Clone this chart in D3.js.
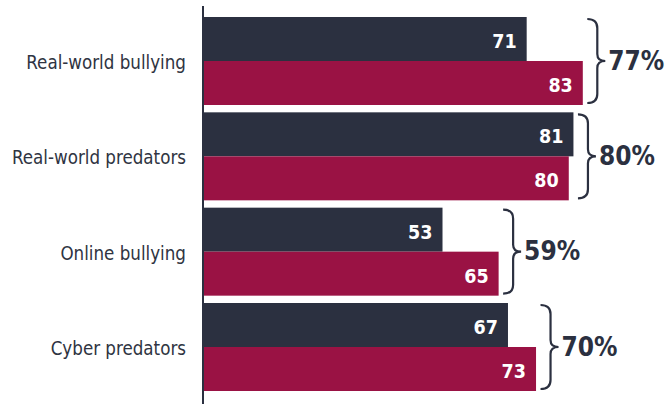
<!DOCTYPE html>
<html>
<head>
<meta charset="utf-8">
<script src="https://cdn.jsdelivr.net/npm/d3@7"></script>
<style>
  html, body { margin: 0; padding: 0; background: #ffffff; }
  svg { display: block; }
  text { font-family: "DejaVu Sans Condensed", "DejaVu Sans", sans-serif; }
</style>
</head>
<body>
<svg id="chart" width="665" height="404"></svg>
<script>
// Categories (top to bottom)
const categories = ["Real-world bullying", "Real-world predators", "Online bullying", "Cyber predators"];
// Two series per category
const seriesDark = [71, 81, 53, 67];
const seriesRed = [83, 80, 65, 73];
// Combined share shown beside each brace
const combined = [77, 80, 59, 70];

const DARK = "#2b3040";
const RED = "#9a1244";
const TEXT = "#2f3442";

const svg = d3.select("#chart");

const axisX = 203;
const x = d3.scaleLinear().domain([2, 100]).range([204, 662.3]);
const y = d3.scaleBand().domain(categories).range([17, 391]).paddingInner(0.0769);
const inner = d3.scaleBand().domain(["dark", "red"]).range([0, y.bandwidth()]);

const rows = categories.map((c, i) => ({
  cat: c,
  bars: [
    { key: "dark", value: seriesDark[i], color: DARK },
    { key: "red", value: seriesRed[i], color: RED }
  ],
  total: combined[i]
}));

const g = svg.selectAll("g.row").data(rows).join("g").attr("class", "row")
  .attr("transform", d => `translate(0,${y(d.cat)})`);

// bars
g.selectAll("rect").data(d => d.bars).join("rect")
  .attr("x", x.range()[0])
  .attr("y", b => inner(b.key))
  .attr("width", b => x(b.value) - x.range()[0])
  .attr("height", inner.bandwidth())
  .attr("fill", b => b.color);

// value labels inside bar ends
g.selectAll("text.val").data(d => d.bars).join("text")
  .attr("class", "val")
  .attr("x", b => x(b.value) - 10)
  .attr("y", b => inner(b.key) + inner.bandwidth() / 2 + 9)
  .attr("text-anchor", "end")
  .attr("fill", "#ffffff")
  .attr("font-weight", "bold")
  .attr("font-size", 19.5)
  .text(b => b.value);

// category labels
g.append("text")
  .attr("x", 186)
  .attr("y", y.bandwidth() / 2 + 8)
  .attr("text-anchor", "end")
  .attr("fill", TEXT)
  .attr("font-size", 18.6)
  .text(d => d.cat);

// curly braces
function bracePath(bx, y0, y1) {
  const yc = (y0 + y1) / 2;
  const vx = bx + 10, px = bx + 18;
  return `M${bx},${y0} Q${vx},${y0} ${vx},${y0 + 9}` +
    ` L${vx},${yc - 7} Q${vx},${yc} ${px},${yc}` +
    ` Q${vx},${yc} ${vx},${yc + 7}` +
    ` L${vx},${y1 - 9} Q${vx},${y1} ${bx},${y1}`;
}

g.append("path")
  .attr("d", d => bracePath(x(d3.max(d.bars, b => b.value)) + 4.5, 2, y.bandwidth() - 2))
  .attr("fill", "none")
  .attr("stroke", DARK)
  .attr("stroke-width", 2.2)
  .attr("stroke-linejoin", "miter");

// combined share labels
g.append("text")
  .attr("x", d => x(d3.max(d.bars, b => b.value)) + 4.5 + 21)
  .attr("y", y.bandwidth() / 2 + 8.8)
  .attr("fill", DARK)
  .attr("font-weight", "bold")
  .attr("font-size", 26)
  .text(d => d.total + "%");

// vertical axis line
svg.append("line")
  .attr("x1", axisX).attr("x2", axisX)
  .attr("y1", 6).attr("y2", 404)
  .attr("stroke", DARK)
  .attr("stroke-width", 2);
</script>
</body>
</html>
